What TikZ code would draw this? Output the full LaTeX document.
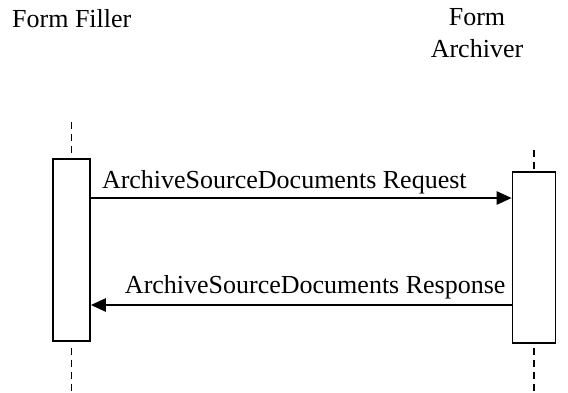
\documentclass[tikz,border=0pt]{standalone}
\usepackage{fontspec}
\setmainfont{Liberation Serif}
\usetikzlibrary{arrows.meta,positioning}
\tikzset{actor/.style={font=\fontsize{26}{32}\selectfont,align=center,inner sep=0pt},
bar/.style={draw,line width=1.6pt,fill=white,minimum width=37pt,inner sep=0pt},
life/.style={line width=1.6pt,dash pattern=on 7pt off 5pt},
msg/.style={-{Triangle[length=15pt,width=13pt]},line width=2.4pt},
lbl/.style={font=\fontsize{26}{30}\selectfont,inner sep=0pt}}
\begin{document}
\begin{tikzpicture}[x=1pt,y=-1pt]
\useasboundingbox (0,0) rectangle (568,392);
% participants
\node[actor,anchor=base west] (filler) at (12,27) {Form Filler};
\node[actor,anchor=north] (archiver) at (477,8) {Form\\Archiver};
% activation bars
\node[bar,minimum height=182pt,anchor=north] (fillerbar) at (71.5,158) {};
\node[bar,minimum width=43pt,minimum height=171pt,anchor=north] (archiverbar) at (534,171) {};
% lifelines
\coordinate (ftop) at (71.5,122);
\coordinate (fbot) at (71.5,392);
\coordinate (atop) at (534,150);
\coordinate (abot) at (534,392);
\draw[life] (ftop)--(fillerbar.north);
\draw[life] (fillerbar.south)++(0,6)--(fbot);
\draw[life] (atop)--(archiverbar.north);
\draw[life] (archiverbar.south)++(0,4)--(abot);
% messages
\draw[msg] (fillerbar.east|-0,198)--node[lbl,anchor=base west,pos=0,shift={(10,-10)}] {ArchiveSourceDocuments Request}(archiverbar.west|-0,198);
\draw[msg] (archiverbar.west|-0,305)--node[lbl,anchor=base east,pos=0,shift={(-5,-12)}] {ArchiveSourceDocuments Response}(fillerbar.east|-0,305);
\end{tikzpicture}
\end{document}
